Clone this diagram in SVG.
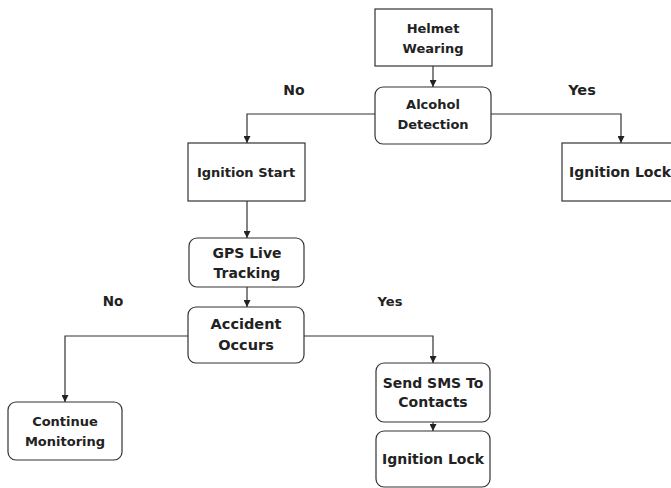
<svg xmlns="http://www.w3.org/2000/svg" width="671" height="488" viewBox="0 0 671 488">
<defs>
<marker id="ah" viewBox="0 0 8 8" refX="8" refY="4" markerWidth="7" markerHeight="7" markerUnits="userSpaceOnUse" orient="auto">
<path d="M0,0 L8,4 L0,8 z" fill="#222"/>
</marker>
<style>
.box{fill:#fff;stroke:#333;stroke-width:1.2}
.t{font-family:"DejaVu Sans",Verdana,sans-serif;font-weight:bold;fill:#222;text-anchor:middle}
.lbl{font-family:"DejaVu Sans",Verdana,sans-serif;font-weight:bold;fill:#222;text-anchor:middle}
.c{fill:none;stroke:#333;stroke-width:1.2;marker-end:url(#ah)}
</style>
</defs>
<rect width="671" height="488" fill="#fff"/>
<g id="connectors">
<path class="c" d="M433,66 V87"/>
<path class="c" d="M375,114 H247 V143"/>
<path class="c" d="M491,114 H621 V143"/>
<path class="c" d="M247,201 V238"/>
<path class="c" d="M247,287 V307"/>
<path class="c" d="M188,336 H65 V402"/>
<path class="c" d="M304,336 H433 V363"/>
<path class="c" d="M433,422 V431"/>
</g>
<g id="labels">
<text class="lbl" x="294" y="95" font-size="14">No</text>
<text class="lbl" x="582" y="95" font-size="14.5">Yes</text>
<text class="lbl" x="113" y="306" font-size="13.5">No</text>
<text class="lbl" x="390" y="306" font-size="13">Yes</text>
</g>
<g id="helmet">
<rect class="box" x="375" y="9" width="117" height="57"/>
<text class="t" font-size="13" x="433" y="33">Helmet</text>
<text class="t" font-size="13" x="433" y="53">Wearing</text>
</g>
<g id="alcohol">
<rect class="box" x="375" y="87" width="116" height="57" rx="8"/>
<text class="t" font-size="13" x="433" y="109">Alcohol</text>
<text class="t" font-size="13" x="433" y="129">Detection</text>
</g>
<g id="ignition-start">
<rect class="box" x="188" y="143" width="117" height="58"/>
<text class="t" font-size="13" x="246" y="177">Ignition Start</text>
</g>
<g id="ignition-lock-1">
<rect class="box" x="562" y="143" width="118" height="58"/>
<text class="t" font-size="14" x="620" y="177">Ignition Lock</text>
</g>
<g id="gps">
<rect class="box" x="189" y="238" width="115" height="49" rx="8"/>
<text class="t" font-size="14" x="247" y="258">GPS Live</text>
<text class="t" font-size="14" x="247" y="278">Tracking</text>
</g>
<g id="accident">
<rect class="box" x="188" y="307" width="116" height="56" rx="8"/>
<text class="t" font-size="14.5" x="246" y="329">Accident</text>
<text class="t" font-size="14.5" x="246" y="350">Occurs</text>
</g>
<g id="continue">
<rect class="box" x="8" y="402" width="114" height="58" rx="8"/>
<text class="t" font-size="13" x="65" y="426">Continue</text>
<text class="t" font-size="13" x="65" y="446">Monitoring</text>
</g>
<g id="sms">
<rect class="box" x="376" y="363" width="114" height="59" rx="8"/>
<text class="t" font-size="14" x="433" y="388">Send SMS To</text>
<text class="t" font-size="14" x="433" y="407">Contacts</text>
</g>
<g id="ignition-lock-2">
<rect class="box" x="376" y="431" width="114" height="56" rx="8"/>
<text class="t" font-size="14" x="433" y="464">Ignition Lock</text>
</g>
</svg>
